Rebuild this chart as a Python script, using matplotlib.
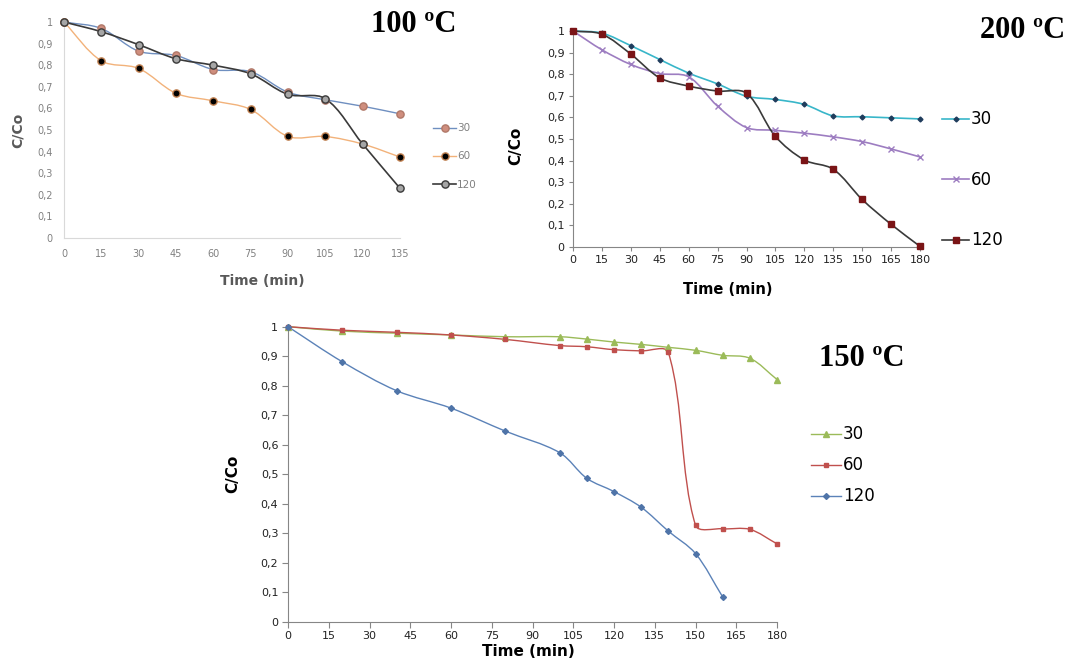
import numpy as np
import matplotlib.pyplot as plt
from matplotlib.path import Path
from matplotlib.patches import PathPatch
from matplotlib.lines import Line2D

# 100 ºC
t100 = [0, 15, 30, 45, 60, 75, 90, 105, 120, 135]
c100_30 = [1.0, 0.97, 0.865, 0.845, 0.78, 0.77, 0.675, 0.64, 0.61, 0.575]
c100_60 = [1.0, 0.82, 0.785, 0.67, 0.635, 0.595, 0.47, 0.47, 0.435, 0.375]
c100_120 = [1.0, 0.955, 0.895, 0.83, 0.80, 0.76, 0.665, 0.645, 0.435, 0.23]

# 200 ºC
t200 = [0, 15, 30, 45, 60, 75, 90, 105, 120, 135, 150, 165, 180]
c200_30 = [1.0, 0.99, 0.932, 0.868, 0.805, 0.755, 0.698, 0.683, 0.66, 0.607, 0.603, 0.598, 0.593]
c200_60 = [1.0, 0.913, 0.845, 0.803, 0.788, 0.652, 0.553, 0.54, 0.527, 0.51, 0.488, 0.454, 0.417]
c200_120 = [1.0, 0.985, 0.893, 0.783, 0.745, 0.722, 0.712, 0.512, 0.403, 0.36, 0.22, 0.105, 0.003]

# 150 ºC
t150 = [0, 20, 40, 60, 80, 100, 110, 120, 130, 140, 150, 160, 170, 180]
c150_30 = [1.0, 0.985, 0.978, 0.972, 0.966, 0.966, 0.958, 0.948, 0.94, 0.93, 0.92, 0.903, 0.893, 0.821]
c150_60 = [1.0, 0.988, 0.981, 0.972, 0.957, 0.936, 0.932, 0.922, 0.918, 0.913, 0.327, 0.315, 0.313, 0.264]
t150_120 = [0, 20, 40, 60, 80, 100, 110, 120, 130, 140, 150, 160]
c150_120 = [1.0, 0.881, 0.783, 0.724, 0.646, 0.573, 0.486, 0.441, 0.388, 0.307, 0.231, 0.084]

labels = ['30', '60', '120']


def smooth_path(x, y, sx, sy):
    # Excel-like smoothed line, tangents scaled by segment length on screen
    p = np.column_stack([np.asarray(x, float) * sx, np.asarray(y, float) * sy])
    n = len(p)
    d = np.hypot(*np.diff(p, axis=0).T)
    verts = [p[0]]
    codes = [Path.MOVETO]
    for i in range(n - 1):
        if i > 0:
            t1 = (p[i + 1] - p[i - 1]) * d[i] / (d[i - 1] + d[i]) / 3
        else:
            t1 = (p[i + 1] - p[i]) / 3
        if i + 2 < n:
            t2 = (p[i + 2] - p[i]) * d[i] / (d[i] + d[i + 1]) / 3
        else:
            t2 = (p[i + 1] - p[i]) / 3
        verts += [p[i] + t1, p[i + 1] - t2, p[i + 1]]
        codes += [Path.CURVE4] * 3
    verts = np.array(verts) / [sx, sy]
    return Path(verts, codes)


def draw(ax, x, y, lc, lw, mk, ms, mfc, mec):
    bb = ax.get_position()
    sx = bb.width * 1069 / np.diff(ax.get_xlim())[0]
    sy = bb.height * 662 / np.diff(ax.get_ylim())[0]
    ax.add_patch(PathPatch(smooth_path(x, y, sx, sy), fill=False, edgecolor=lc, lw=lw, clip_on=False))
    ax.plot(x, y, linestyle='none', marker=mk, ms=ms, mfc=mfc, mec=mec, clip_on=False, zorder=3)
    return Line2D([], [], color=lc, lw=lw, marker=mk, ms=ms, mfc=mfc, mec=mec)


def ylabels():
    return ['0' if v == 0 else ('1' if v == 10 else '0,%d' % v) for v in range(11)]


fig = plt.figure(figsize=(10.69, 6.62), dpi=100)

# ---- 100 ºC ----
ax1 = fig.add_axes([64 / 1069, 1 - 238 / 662, 336 / 1069, 216 / 662])
ax1.set_xlim(0, 135)
ax1.set_ylim(0, 1)
h1 = [
    draw(ax1, t100, c100_30, '#6f8fc0', 1.0, 'o', 5.2, '#cf8e7e', '#b07868'),
    draw(ax1, t100, c100_60, '#f2b27a', 1.0, 'o', 5.2, '#000000', '#c08050'),
    draw(ax1, t100, c100_120, '#3a3a3a', 1.2, 'o', 5.2, '#a6a6a6', '#3a3a3a'),
]
ax1.set_xticks(t100)
ax1.set_yticks(np.linspace(0, 1, 11))
ax1.set_yticklabels(ylabels())
ax1.tick_params(length=0, labelsize=7, colors='#808080', pad=8)
for s in ['top', 'right']:
    ax1.spines[s].set_visible(False)
for s in ['left', 'bottom']:
    ax1.spines[s].set_color('#d9d9d9')
ax1.set_xlabel('Time (min)', fontsize=10, fontweight='bold', color='#595959')
ax1.xaxis.set_label_coords(0.589, -0.165)
ax1.set_ylabel('C/Co', fontsize=10, fontweight='bold', color='#595959')
ax1.yaxis.set_label_coords(-0.116, 0.5)
fig.legend(h1, labels, loc='upper left', bbox_to_anchor=(428 / 1069, 1 - 118 / 662),
           frameon=False, fontsize=7.5, labelcolor='#808080', handlelength=2.2,
           handletextpad=0.1, labelspacing=1.75, borderpad=0)
fig.text(414 / 1069, 1 - 25 / 662, '100 ºC', family='Liberation Serif', fontweight='bold',
         fontsize=22, ha='center', va='center')

# ---- 200 ºC ----
ax2 = fig.add_axes([573 / 1069, 1 - 247 / 662, 347 / 1069, 216 / 662])
ax2.set_xlim(0, 180)
ax2.set_ylim(0, 1)
h2 = [
    draw(ax2, t200, c200_30, '#38b6c9', 1.2, 'D', 2.5, '#1f3c5c', '#1f3c5c'),
    draw(ax2, t200, c200_60, '#9d7dc1', 1.2, 'x', 4.5, '#9d7dc1', '#9d7dc1'),
    draw(ax2, t200, c200_120, '#3a3a3a', 1.2, 's', 5, '#7a1416', '#7a1416'),
]
ax2.set_xticks(t200)
ax2.set_yticks(np.linspace(0, 1, 11))
ax2.set_yticklabels(ylabels())
ax2.tick_params(length=3, width=0.8, color='#868686', labelsize=8, labelcolor='#222222', pad=3)
for s in ['top', 'right']:
    ax2.spines[s].set_visible(False)
for s in ['left', 'bottom']:
    ax2.spines[s].set_color('#868686')
ax2.set_xlabel('Time (min)', fontsize=10.5, fontweight='bold')
ax2.xaxis.set_label_coords(0.447, -0.16)
ax2.set_ylabel('C/Co', fontsize=11, fontweight='bold')
ax2.yaxis.set_label_coords(-0.144, 0.47)
fig.legend(h2, labels, loc='upper left', bbox_to_anchor=(934 / 1069, 1 - 102 / 662),
           frameon=False, fontsize=12, handlelength=1.6,
           handletextpad=0.1, labelspacing=2.55, borderpad=0)
fig.text(1023 / 1069, 1 - 30 / 662, '200 ºC', family='Liberation Serif', fontweight='bold',
         fontsize=22, ha='center', va='center')

# ---- 150 ºC ----
ax3 = fig.add_axes([288 / 1069, 1 - 621.7 / 662, 489 / 1069, 295 / 662])
ax3.set_xlim(0, 180)
ax3.set_ylim(0, 1)
h3 = [
    draw(ax3, t150, c150_30, '#9bbb59', 1.0, '^', 4, '#9bbb59', '#9bbb59'),
    draw(ax3, t150, c150_60, '#c0504d', 1.0, 's', 3.5, '#c0504d', '#c0504d'),
    draw(ax3, t150_120, c150_120, '#5b82b8', 1.0, 'D', 3, '#4f74a8', '#4f74a8'),
]
ax3.set_xticks(np.arange(0, 181, 15))
ax3.set_yticks(np.linspace(0, 1, 11))
ax3.set_yticklabels(ylabels())
ax3.tick_params(length=4, width=0.8, color='#868686', labelsize=8, labelcolor='#222222', pad=3)
for s in ['top', 'right']:
    ax3.spines[s].set_visible(False)
for s in ['left', 'bottom']:
    ax3.spines[s].set_color('#868686')
ax3.set_xlabel('Time (min)', fontsize=11, fontweight='bold')
ax3.xaxis.set_label_coords(0.491, -0.075)
ax3.set_ylabel('C/Co', fontsize=11, fontweight='bold')
ax3.yaxis.set_label_coords(-0.098, 0.5)
fig.legend(h3, labels, loc='upper left', bbox_to_anchor=(803 / 1069, 1 - 417 / 662),
           frameon=False, fontsize=12, handlelength=1.8,
           handletextpad=0.1, labelspacing=0.78, borderpad=0)
fig.text(862 / 1069, 1 - 358 / 662, '150 ºC', family='Liberation Serif', fontweight='bold',
         fontsize=22, ha='center', va='center')

fig.savefig('out.png', dpi=100, facecolor='white')
